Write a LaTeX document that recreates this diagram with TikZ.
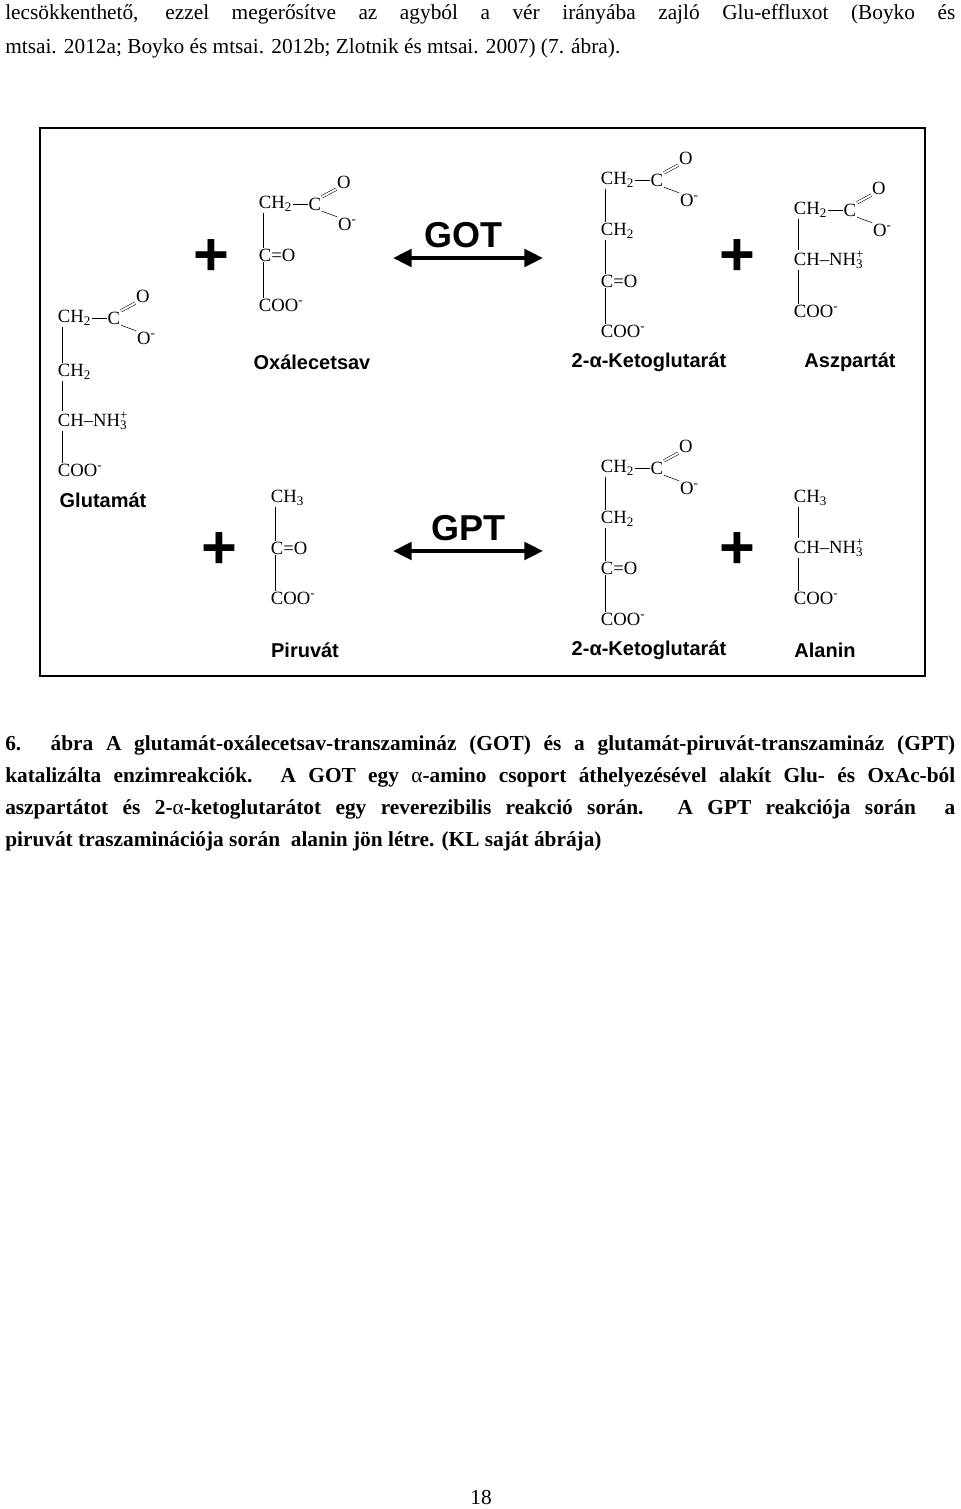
\documentclass[tikz,border=0pt]{standalone}
\usepackage{fontspec}
\setmainfont{Liberation Serif}
\setsansfont{Liberation Sans}
\usepackage{tikz}
\usetikzlibrary{arrows.meta,positioning}

\tikzset{
  chem/.style={inner sep=0.5pt, font=\fontsize{14}{14}\selectfont},
  molname/.style={font=\sffamily\bfseries\fontsize{15}{15}\selectfont},
  enzyme/.style={font=\sffamily\bfseries\fontsize{27}{27}\selectfont},
  plus/.style={font=\sffamily\bfseries\fontsize{46}{46}\selectfont},
  body/.style={inner sep=0pt, anchor=north west, text width=712.5pt, align=justify,
    font=\fontsize{16}{26}\selectfont},
}
\newcommand\bond[2]{\draw ([xshift=4pt]#1.south west) -- ([xshift=4pt]#2.north west);}
% CH2-C(=O)O- head group, #1 = name of the CH2 node
\newcommand\carboxyl[1]{
  \node[chem, right=11pt of #1] (#1C) {C};
  \draw (#1.east) -- (#1C.west);
  \node[chem] (#1O) at ([shift={(29,-22)}]#1C) {O};
  \node[chem] (#1Om) at ([shift={(30,20)}]#1C) {O\rlap{\textsuperscript{-}}};
  \draw[double, double distance=1.5pt] (#1C.north east) -- (#1O.south west);
  \draw (#1C.south east) -- (#1Om.north west);
}

\begin{document}
\begin{tikzpicture}[x=0.75pt, y=-0.75pt]
  \useasboundingbox (0,0) rectangle (960,1509);

  \node[body] (top) at (5,4) {lecsökkenthető, ezzel megerősítve az agyból a vér irányába zajló Glu-effluxot (Boyko és\linebreak
    mtsai. 2012a; Boyko és mtsai. 2012b; Zlotnik és mtsai. 2007) (7. ábra).};

  \draw[line width=2.2pt] (40,128) rectangle (925,676);

  % glutamat
  \node[chem, anchor=west] (gluA) at (57,318) {CH\textsubscript{2}};
  \carboxyl{gluA}
  \node[chem, anchor=west] (gluB) at (57,372) {CH\textsubscript{2}};
  \node[chem, anchor=west] (gluC) at (57,421) {CH--NH\rlap{\textsubscript{3}}\textsuperscript{+}};
  \node[chem, anchor=west] (gluD) at (57,470) {COO\textsuperscript{-}};
  \bond{gluA}{gluB} \bond{gluB}{gluC} \bond{gluC}{gluD}
  \node[molname] (gluN) at (103,500) {Glutamát};

  % oxalecetsav
  \node[chem, anchor=west] (oxA) at (258,204) {CH\textsubscript{2}};
  \carboxyl{oxA}
  \node[chem, anchor=west] (oxB) at (258,255) {C=O};
  \node[chem, anchor=west] (oxC) at (258,305) {COO\textsuperscript{-}};
  \bond{oxA}{oxB} \bond{oxB}{oxC}
  \node[molname] (oxN) at (312,362) {Oxálecetsav};

  % 2-alfa-ketoglutarat (GOT)
  \node[chem, anchor=west] (kgA) at (600,180) {CH\textsubscript{2}};
  \carboxyl{kgA}
  \node[chem, anchor=west] (kgB) at (600,231) {CH\textsubscript{2}};
  \node[chem, anchor=west] (kgC) at (600,281) {C=O};
  \node[chem, anchor=west] (kgD) at (600,331) {COO\textsuperscript{-}};
  \bond{kgA}{kgB} \bond{kgB}{kgC} \bond{kgC}{kgD}
  \node[molname] (kgN) at (649,362) {2-α-Ketoglutarát};

  % aszpartat
  \node[chem, anchor=west] (asA) at (793,210) {CH\textsubscript{2}};
  \carboxyl{asA}
  \node[chem, anchor=west] (asB) at (793,260) {CH--NH\rlap{\textsubscript{3}}\textsuperscript{+}};
  \node[chem, anchor=west] (asC) at (793,311) {COO\textsuperscript{-}};
  \bond{asA}{asB} \bond{asB}{asC}
  \node[molname] (asN) at (850,362) {Aszpartát};

  % piruvat
  \node[chem, anchor=west] (pyA) at (270,498) {CH\textsubscript{3}};
  \node[chem, anchor=west] (pyB) at (270,548) {C=O};
  \node[chem, anchor=west] (pyC) at (270,598) {COO\textsuperscript{-}};
  \bond{pyA}{pyB} \bond{pyB}{pyC}
  \node[molname] (pyN) at (305,650) {Piruvát};

  % 2-alfa-ketoglutarat (GPT)
  \node[chem, anchor=west] (khA) at (600,468) {CH\textsubscript{2}};
  \carboxyl{khA}
  \node[chem, anchor=west] (khB) at (600,519) {CH\textsubscript{2}};
  \node[chem, anchor=west] (khC) at (600,568) {C=O};
  \node[chem, anchor=west] (khD) at (600,619) {COO\textsuperscript{-}};
  \bond{khA}{khB} \bond{khB}{khC} \bond{khC}{khD}
  \node[molname] (khN) at (649,650) {2-α-Ketoglutarát};

  % alanin
  \node[chem, anchor=west] (alA) at (793,498) {CH\textsubscript{3}};
  \node[chem, anchor=west] (alB) at (793,548) {CH--NH\rlap{\textsubscript{3}}\textsuperscript{+}};
  \node[chem, anchor=west] (alC) at (793,598) {COO\textsuperscript{-}};
  \bond{alA}{alB} \bond{alB}{alC}
  \node[molname] (alN) at (825,650) {Alanin};

  % plus jelek
  \node[plus] (p1) at (211,258) {+};
  \node[plus] (p2) at (737,258) {+};
  \node[plus] (p3) at (219,551) {+};
  \node[plus] (p4) at (737,551) {+};

  % enzimek
  \coordinate (gotL) at (393,258); \coordinate (gotR) at (543,258);
  \coordinate (gptL) at (393,551); \coordinate (gptR) at (543,551);
  \draw[{Triangle[length=14pt,width=13pt]}-{Triangle[length=14pt,width=13pt]}, line width=3pt] (gotL) -- (gotR);
  \draw[{Triangle[length=14pt,width=13pt]}-{Triangle[length=14pt,width=13pt]}, line width=3pt] (gptL) -- (gptR);
  \node[enzyme] (got) at (463,235) {GOT};
  \node[enzyme] (gpt) at (468,528) {GPT};

  \node[body, font=\bfseries\fontsize{16}{24}\selectfont] (cap) at (5,735) {6. ábra A glutamát-oxálecetsav-transzamináz (GOT) és a glutamát-piruvát-transzamináz (GPT)\linebreak
    katalizálta enzimreakciók. A GOT egy {\mdseries α}-amino csoport áthelyezésével alakít Glu- és OxAc-ból\linebreak
    aszpartátot és 2-{\mdseries α}-ketoglutarátot egy reverezibilis reakció során. A GPT reakciója során \ a\linebreak
    piruvát traszaminációja során \ alanin jön létre. (KL saját ábrája)};

  \node[font=\fontsize{16}{16}\selectfont] (page) at (481,1497) {18};
\end{tikzpicture}
\end{document}
